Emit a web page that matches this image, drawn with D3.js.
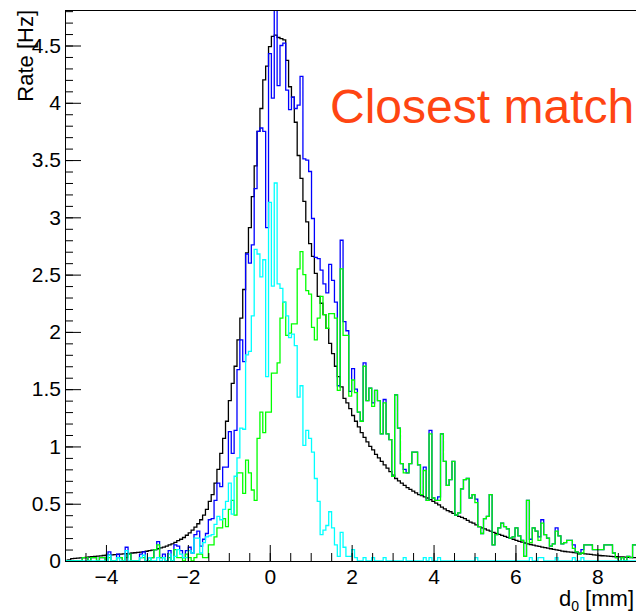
<!DOCTYPE html>
<html>
<head>
<meta charset="utf-8">
<script src="https://cdn.jsdelivr.net/npm/d3@7"></script>
<style>
  body { margin: 0; background: #fff; }
  svg { display: block; font-family: "Liberation Sans", Arial, Helvetica, sans-serif; }
</style>
</head>
<body>
<div id="wrapper"></div>
<script>
// binning of the d0 histograms
const binLow = -5
const binWidth = 0.07

// Rate [Hz] per bin, 200 bins from -5 to 9 mm
const blackRate = [
  0.005, 0.01, 0.02, 0.023, 0.025, 0.027, 0.03, 0.032, 0.035, 0.037,
  0.04, 0.042, 0.045, 0.048, 0.05, 0.052, 0.054, 0.056, 0.058, 0.06,
  0.062, 0.064, 0.066, 0.07, 0.072, 0.075, 0.078, 0.082, 0.085, 0.09,
  0.095, 0.10, 0.107, 0.114, 0.122, 0.13, 0.14, 0.15, 0.163, 0.177,
  0.19, 0.205, 0.225, 0.245, 0.27, 0.295, 0.325, 0.36, 0.40, 0.45,
  0.52, 0.58, 0.68, 0.80, 0.94, 1.07, 1.22, 1.40, 1.55, 1.70,
  1.93, 2.12, 2.37, 2.69, 2.91, 3.18, 3.45, 3.75, 3.95, 4.20,
  4.32, 4.49, 4.58, 4.59, 4.57, 4.56, 4.55, 4.37, 4.14, 4.05,
  3.83, 3.54, 3.34, 3.14, 2.96, 2.77, 2.66, 2.51, 2.31, 2.25,
  2.15, 2.03, 1.90, 1.81, 1.70, 1.61, 1.52, 1.42, 1.38, 1.33,
  1.27, 1.22, 1.17, 1.12, 1.08, 1.04, 1.00, 0.97, 0.93, 0.90,
  0.87, 0.84, 0.81, 0.78, 0.75, 0.72, 0.70, 0.68, 0.66, 0.64,
  0.625, 0.61, 0.595, 0.58, 0.57, 0.56, 0.55, 0.535, 0.52, 0.505,
  0.49, 0.47, 0.455, 0.44, 0.43, 0.415, 0.40, 0.39, 0.38, 0.37,
  0.355, 0.34, 0.33, 0.315, 0.30, 0.29, 0.28, 0.27, 0.26, 0.25,
  0.24, 0.232, 0.224, 0.215, 0.207, 0.198, 0.19, 0.18, 0.172, 0.164,
  0.157, 0.15, 0.144, 0.138, 0.132, 0.127, 0.122, 0.117, 0.112, 0.107,
  0.102, 0.097, 0.092, 0.087, 0.083, 0.08, 0.077, 0.074, 0.071, 0.068,
  0.066, 0.063, 0.06, 0.057, 0.054, 0.051, 0.048, 0.046, 0.044, 0.042,
  0.041, 0.039, 0.038, 0.036, 0.035, 0.033, 0.032, 0.031, 0.03, 0.029
]

const blueRate = [
  0, 0, 0, 0, 0, 0, 0.03, 0.03, 0, 0.03,
  0.03, 0, 0.03, 0.03, 0, 0.08, 0, 0, 0.06, 0.03,
  0, 0.12, 0.06, 0, 0, 0, 0.06, 0.08, 0, 0.03,
  0.03, 0.1, 0.17, 0.03, 0.06, 0, 0.09, 0, 0.14, 0.13,
  0.09, 0.03, 0.09, 0.12, 0.07, 0.23, 0.26, 0.13, 0.19, 0.24,
  0.36, 0.37, 0.53, 0.68, 0.65, 0.82, 0.82, 1.13, 0.94, 1.14,
  1.67, 1.93, 1.74, 2.68, 2.60, 2.76, 3.25, 3.75, 3.78, 3.75,
  2.91, 4.43, 4.04, 4.94, 4.15, 4.50, 4.52, 4.11, 3.94, 4.05,
  3.95, 3.98, 4.23, 3.51, 3.50, 3.40, 2.99, 2.65, 2.64, 2.54,
  2.42, 2.34, 2.59, 2.45, 2.26, 1.53, 2.80, 2.09, 2.01, 1.48,
  1.68, 1.50, 1.30, 1.22, 1.73, 1.40, 1.51, 1.38, 1.49, 1.40,
  1.11, 1.41, 1.11, 1.06, 0.74, 1.45, 1.16, 0.85, 0.80, 0.77,
  0.85, 0.95, 0.95, 0.84, 0.58, 0.82, 0.53, 1.14, 0.55, 0.53,
  0.56, 1.11, 0.87, 0.66, 0.71, 0.87, 0.40, 0.42, 0.63, 0.71,
  0.72, 0.55, 0.58, 0.54, 0.30, 0.24, 0.37, 0.39, 0.58, 0.14,
  0.23, 0.29, 0.33, 0.30, 0.28, 0.20, 0.21, 0.29, 0.22, 0.18,
  0.04, 0.53, 0.19, 0.29, 0.26, 0.21, 0.36, 0.23, 0.20, 0.13,
  0.15, 0.29, 0.22, 0.15, 0.16, 0.18, 0.18, 0.14, 0.08, 0.06,
  0.10, 0.14, 0.14, 0.14, 0.10, 0.10, 0.10, 0.10, 0.14, 0.14,
  0.14, 0.07, 0.03, 0, 0.03, 0, 0.04, 0.03, 0.14, 0.14
]

const greenRate = [
  0, 0, 0, 0, 0, 0, 0.03, 0.03, 0, 0.03,
  0.03, 0, 0.03, 0.03, 0, 0.03, 0, 0, 0.03, 0.03,
  0, 0.03, 0.06, 0, 0, 0, 0.03, 0.03, 0, 0,
  0.03, 0.1, 0.14, 0.03, 0.03, 0, 0.03, 0, 0.1, 0.03,
  0.03, 0, 0.06, 0.03, 0, 0.03, 0.06, 0.06, 0.03, 0.03,
  0.14, 0.14, 0.21, 0.29, 0.29, 0.37, 0.30, 0.45, 0.53, 0.40,
  0.77, 0.77, 0.59, 0.88, 0.77, 0.62, 0.53, 1.07, 1.30, 1.12,
  1.30, 1.30, 1.64, 1.64, 1.73, 2.12, 2.26, 1.97, 1.99, 2.07,
  2.07, 2.55, 2.70, 2.50, 2.36, 2.33, 2.04, 1.93, 2.12, 2.31,
  2.15, 2.03, 2.16, 2.16, 2.12, 1.49, 2.55, 1.97, 1.97, 1.44,
  1.58, 1.47, 1.30, 1.22, 1.70, 1.40, 1.51, 1.35, 1.49, 1.40,
  1.11, 1.38, 1.11, 1.06, 0.74, 1.45, 1.16, 0.85, 0.77, 0.77,
  0.85, 0.95, 0.95, 0.84, 0.58, 0.79, 0.53, 1.11, 0.55, 0.53,
  0.53, 1.11, 0.87, 0.66, 0.71, 0.87, 0.40, 0.42, 0.63, 0.71,
  0.72, 0.55, 0.58, 0.51, 0.30, 0.24, 0.37, 0.39, 0.58, 0.14,
  0.23, 0.29, 0.33, 0.30, 0.28, 0.20, 0.21, 0.29, 0.22, 0.18,
  0.04, 0.53, 0.16, 0.29, 0.26, 0.18, 0.33, 0.23, 0.20, 0.13,
  0.15, 0.26, 0.22, 0.15, 0.16, 0.18, 0.18, 0.11, 0.08, 0.06,
  0.07, 0.14, 0.14, 0.14, 0.10, 0.10, 0.10, 0.10, 0.14, 0.14,
  0.14, 0.07, 0.03, 0, 0.03, 0, 0.04, 0.03, 0.14, 0.14
]

const cyanRate = [
  0, 0, 0, 0, 0, 0, 0, 0, 0, 0,
  0, 0, 0, 0, 0, 0.05, 0, 0, 0.03, 0,
  0, 0.09, 0, 0, 0, 0, 0.03, 0.05, 0, 0.03,
  0, 0, 0.03, 0, 0.03, 0, 0.06, 0, 0.04, 0.1,
  0.06, 0.03, 0.03, 0.09, 0.07, 0.2, 0.2, 0.07, 0.16, 0.21,
  0.22, 0.23, 0.32, 0.39, 0.36, 0.45, 0.52, 0.68, 0.41, 0.74,
  0.90, 1.16, 1.15, 1.80, 1.83, 2.14, 2.72, 2.68, 2.48, 2.63,
  1.61, 3.13, 2.40, 3.30, 2.42, 2.38, 2.26, 2.14, 1.95, 1.98,
  1.88, 1.43, 1.53, 1.01, 1.14, 1.07, 0.95, 0.72, 0.52, 0.23,
  0.27, 0.31, 0.43, 0.29, 0.14, 0.04, 0.25, 0.12, 0.04, 0.04,
  0.10, 0.03, 0, 0, 0.03, 0, 0, 0.03, 0, 0,
  0, 0.03, 0, 0, 0, 0, 0, 0, 0.03, 0,
  0, 0, 0, 0, 0, 0.03, 0, 0.03, 0, 0,
  0.03, 0, 0, 0, 0, 0, 0, 0, 0, 0,
  0, 0, 0, 0.03, 0, 0, 0, 0, 0, 0,
  0, 0, 0, 0, 0, 0, 0, 0, 0, 0,
  0, 0, 0.03, 0, 0, 0.03, 0.03, 0, 0, 0,
  0, 0.03, 0, 0, 0, 0, 0, 0.03, 0, 0,
  0.03, 0, 0, 0, 0, 0, 0, 0, 0, 0,
  0, 0, 0, 0, 0, 0, 0, 0, 0, 0
]

// axis ticks
const xMajorTicks = [-4, -2, 0, 2, 4, 6, 8]
const xMinorTicks = d3.range(-5, 9.01, 0.5)
const yMajorTicks = [0, 0.5, 1, 1.5, 2, 2.5, 3, 3.5, 4, 4.5]
const yMinorTicks = d3.range(0, 4.81, 0.1)

const series = [
  { name: "black", values: blackRate, color: "#000000" },
  { name: "blue", values: blueRate, color: "#0000ff" },
  { name: "green", values: greenRate, color: "#00ff00" },
  { name: "cyan", values: cyanRate, color: "#00ffff" },
]

const dimensions = { width: 636, height: 614 }
const frame = { left: 65, right: 638.3, top: 10, bottom: 561 }

const xScale = d3.scaleLinear()
  .domain([-5, 9])
  .range([frame.left, frame.right])

const yScale = d3.scaleLinear()
  .domain([0, 4.81])
  .range([frame.bottom, frame.top])

const svg = d3.select("#wrapper")
  .append("svg")
    .attr("width", dimensions.width)
    .attr("height", dimensions.height)

svg.append("clipPath")
    .attr("id", "plot-clip")
  .append("rect")
    .attr("x", frame.left)
    .attr("y", frame.top)
    .attr("width", frame.right - frame.left)
    .attr("height", frame.bottom - frame.top)

// histogram outline: step from each bin's low edge
const histLine = d3.line()
  .x(d => xScale(d[0]))
  .y(d => yScale(d[1]))
  .curve(d3.curveStepAfter)

function histPoints(values) {
  const pts = [[binLow, 0]]
  values.forEach((v, i) => pts.push([binLow + i * binWidth, v]))
  const last = values[values.length - 1]
  pts.push([binLow + values.length * binWidth, last])
  pts.push([binLow + values.length * binWidth, 0])
  return pts
}

const histGroup = svg.append("g")
  .attr("clip-path", "url(#plot-clip)")

histGroup.selectAll("path")
  .data(series)
  .join("path")
    .attr("d", d => histLine(histPoints(d.values)))
    .attr("fill", "none")
    .attr("stroke", d => d.color)
    .attr("stroke-width", 1.3)
    .attr("stroke-linejoin", "miter")

// axes, ROOT style: ticks pointing into the frame
const fontSize = 21
const minus = d => d < 0 ? "\u2212" + Math.abs(d) : String(d)

const xMinorAxis = d3.axisBottom(xScale)
  .tickValues(xMinorTicks).tickSize(-8).tickSizeOuter(0).tickFormat("")
const xAxis = d3.axisBottom(xScale)
  .tickValues(xMajorTicks).tickSize(-16).tickSizeOuter(0).tickPadding(8).tickFormat(minus)
const yMinorAxis = d3.axisLeft(yScale)
  .tickValues(yMinorTicks).tickSize(-8).tickSizeOuter(0).tickFormat("")
const yAxis = d3.axisLeft(yScale)
  .tickValues(yMajorTicks).tickSize(-16).tickSizeOuter(0).tickPadding(4).tickFormat(d => String(d))

function styleAxis(g) {
  g.selectAll("path, line").attr("stroke", "#000").attr("stroke-width", 1)
  g.selectAll("text")
    .attr("fill", "#000")
    .style("font-size", fontSize + "px")
    .style("font-family", "'Liberation Sans', Arial, Helvetica, sans-serif")
}

svg.append("g").attr("transform", `translate(0,${frame.bottom})`).call(xMinorAxis).call(styleAxis)
svg.append("g").attr("transform", `translate(0,${frame.bottom})`).call(xAxis).call(styleAxis)
svg.append("g").attr("transform", `translate(${frame.left},0)`).call(yMinorAxis).call(styleAxis)
svg.append("g").attr("transform", `translate(${frame.left},0)`).call(yAxis).call(styleAxis)

// top edge of the frame
svg.append("line")
  .attr("x1", frame.left).attr("x2", frame.right)
  .attr("y1", frame.top + 0.5).attr("y2", frame.top + 0.5)
  .attr("stroke", "#000").attr("stroke-width", 1)

// axis titles
const xTitle = svg.append("text")
  .attr("x", 634)
  .attr("y", 606)
  .attr("text-anchor", "end")
  .style("font-size", "22px")
  .attr("fill", "#000")
xTitle.append("tspan").text("d")
xTitle.append("tspan").attr("dy", 5).style("font-size", "14px").text("0")
xTitle.append("tspan").attr("dy", -5).text(" [mm]")

svg.append("text")
  .attr("transform", `translate(33,${frame.top}) rotate(-90)`)
  .attr("text-anchor", "end")
  .style("font-size", "22px")
  .attr("fill", "#000")
  .text("Rate [Hz]")

// label
svg.append("text")
  .attr("x", 330)
  .attr("y", 123)
  .style("font-size", "48px")
  .attr("fill", "#ff4512")
  .text("Closest match")
</script>
</body>
</html>
